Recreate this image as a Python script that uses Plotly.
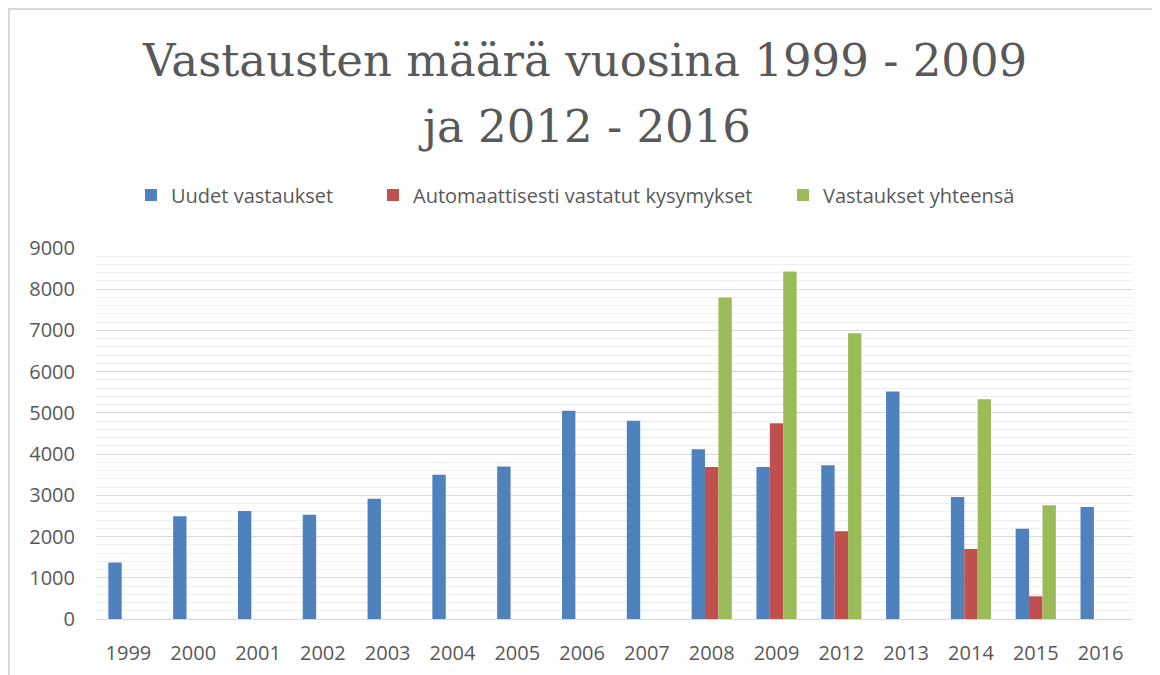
import plotly.graph_objects as go

years = ["1999", "2000", "2001", "2002", "2003", "2004", "2005", "2006",
         "2007", "2008", "2009", "2012", "2013", "2014", "2015", "2016"]
uudet = [1370, 2490, 2620, 2530, 2920, 3500, 3700, 5050,
         4810, 4120, 3690, 3730, 5520, 2960, 2190, 2720]
automaattiset = [None, None, None, None, None, None, None, None,
                 None, 3690, 4750, 2130, None, 1700, 550, None]
yhteensa = [None, None, None, None, None, None, None, None,
            None, 7800, 8430, 6930, None, 5330, 2760, None]

series_names = ["Uudet vastaukset", "Automaattisesti vastatut kysymykset", "Vastaukset yhteensä"]
colors = ["#4F81BD", "#C0504D", "#9BBB59"]
legend_ids = ["legend", "legend2", "legend3"]

title_lines = ["Vastausten määrä vuosina 1999 - 2009", "ja 2012 - 2016"]

# the page body adds an 8px margin, so the figure is laid out 8px smaller
OFF = 8
W, H = 1160 - OFF, 675 - OFF
ML, MR, MT, MB = 96 - OFF, 27, 248 - OFF, 56
PH = H - MT - MB
PW = W - ML - MR

fig = go.Figure()
for name, vals, col, lg in zip(series_names, [uudet, automaattiset, yhteensa], colors, legend_ids):
    fig.add_trace(go.Bar(x=years, y=vals, name=name, marker_color=col,
                         marker_line_width=0, legend=lg))

txt = "#595959"
legend_font = dict(family="Open Sans", size=20, color=txt)
legend_common = dict(orientation="h", xref="container", yref="container",
                     xanchor="left", y=1 - (195 - OFF) / H, yanchor="middle",
                     font=legend_font, itemwidth=30, bgcolor="rgba(0,0,0,0)")
legend_x = [131 - OFF, 373 - OFF, 783 - OFF]

fig.update_layout(
    width=W, height=H,
    paper_bgcolor="white", plot_bgcolor="white",
    margin=dict(l=ML, r=MR, t=MT, b=MB, autoexpand=False),
    barmode="group", bargap=0.38, bargroupgap=0,
    font=dict(family="Open Sans", color=txt),
    showlegend=True,
    legend=dict(x=legend_x[0] / W, **legend_common),
    legend2=dict(x=legend_x[1] / W, **legend_common),
    legend3=dict(x=legend_x[2] / W, **legend_common),
)

# title (two centred lines)
title_centres_px = [60 - OFF, 126 - OFF]
for line, cy in zip(title_lines, title_centres_px):
    fig.add_annotation(text=line, xref="paper", yref="paper",
                       x=(584 - OFF - ML) / PW, y=(H - MB - cy) / PH,
                       xanchor="center", yanchor="middle", showarrow=False,
                       font=dict(family="DejaVu Serif", size=45, color=txt))

fig.update_xaxes(type="category", showgrid=False, showline=True, linecolor="#d9d9d9",
                 linewidth=1, ticks="", automargin=False,
                 tickfont=dict(family="Open Sans", size=20, color=txt),
                 ticklabelstandoff=16)
fig.update_yaxes(range=[0, 9000], dtick=1000, showgrid=True, gridcolor="#d9d9d9",
                 gridwidth=1, zeroline=False, showline=False, ticks="", automargin=False,
                 tickfont=dict(family="Open Sans", size=20, color=txt),
                 ticklabelstandoff=20,
                 minor=dict(dtick=200, showgrid=True, gridcolor="#eeeeee", gridwidth=1))

# outer chart frame
fig.add_shape(type="rect", xref="paper", yref="paper",
              x0=(1 - ML) / PW, x1=(1158 - OFF - ML) / PW,
              y0=(H - MB - 700) / PH, y1=(H - MB - 1) / PH,
              line=dict(color="#d9d9d9", width=2), fillcolor="rgba(0,0,0,0)", layer="below")

fig.write_html("out.html")
